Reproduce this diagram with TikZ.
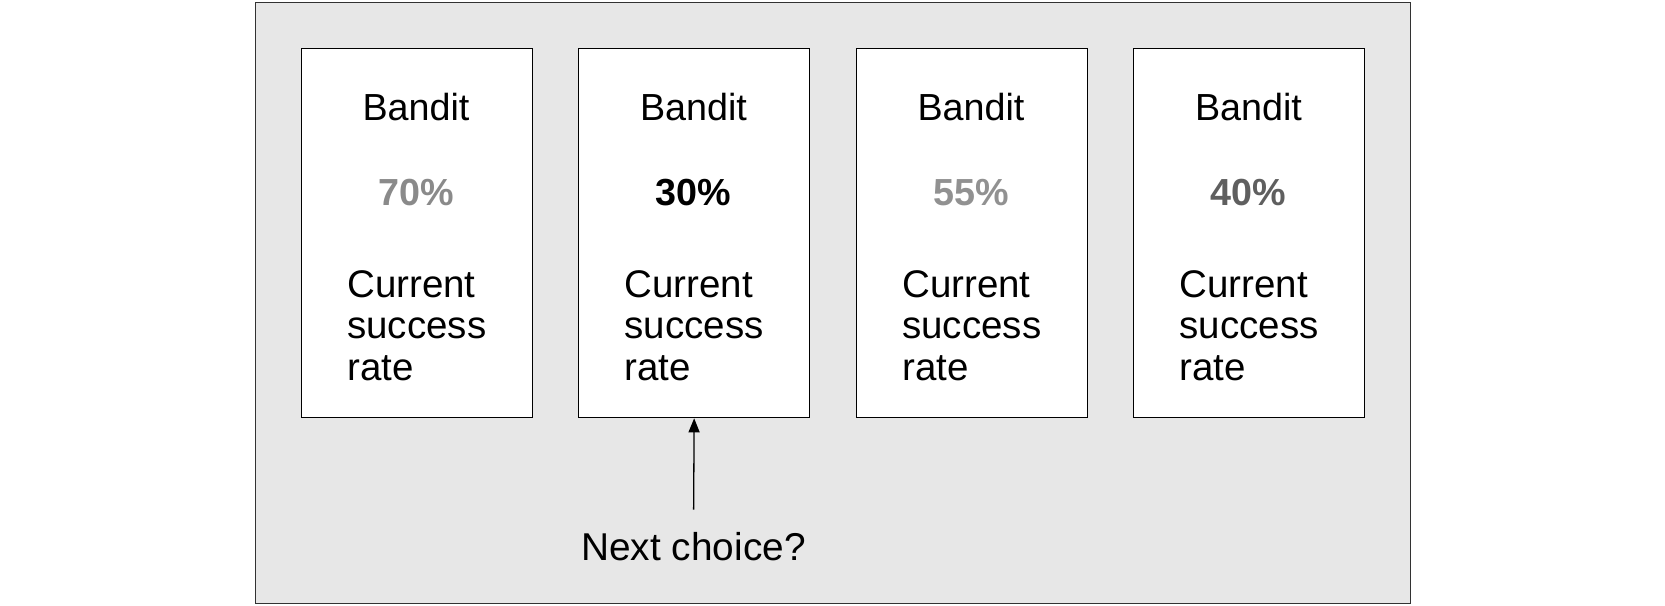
\documentclass[tikz,border=0pt]{standalone}
\usepackage{fontspec}
\setmainfont{Liberation Sans}
\usetikzlibrary{arrows.meta}
\definecolor{framefill}{RGB}{231,231,231}
\definecolor{framedraw}{RGB}{50,50,50}
\definecolor{pctA}{RGB}{138,138,138}
\definecolor{pctC}{RGB}{145,145,145}
\definecolor{pctD}{RGB}{95,95,95}
\begin{document}
\begin{tikzpicture}[x=1pt,y=-1pt,
  banditbox/.style={draw=black,line width=1.3pt,fill=white,minimum width=231pt,minimum height=369pt,inner sep=0pt,anchor=north west},
  txt/.style={font=\fontsize{37.7}{41.5}\selectfont,inner sep=0pt,anchor=base},
  linetxt/.style={inner sep=0pt,anchor=base west,font=\fontsize{38.5}{41.5}\selectfont},
  pct/.style={inner sep=0pt,anchor=base,font=\fontsize{37.7}{41.5}\selectfont\bfseries},
  arrowline/.style={line width=1.3pt,-{Triangle[length=14pt,width=11pt]}}]
\useasboundingbox (0,0) rectangle (1665,605);
\node[draw=framedraw,line width=1.3pt,fill=framefill,minimum width=1155pt,minimum height=601pt,anchor=north west,inner sep=0pt] (frame) at (255,2) {};
\node[banditbox] (b1) at (300.5,48) {};
\node[banditbox] (b2) at (578,48) {};
\node[banditbox] (b3) at (855.5,48) {};
\node[banditbox] (b4) at (1133,48) {};
% box 1
\node[txt] (t1) at (416,120) {Bandit};
\node[pct,text=pctA] (p1) at (416,205) {70\%};
\node[linetxt] (c1) at (347,297) {Current};
\node[linetxt] (s1) at (347,338.5) {success};
\node[linetxt] (r1) at (347,380) {rate};
% box 2
\node[txt] (t2) at (693.5,120) {Bandit};
\node[pct,text=black] (p2) at (693.5,205) {30\%};
\node[linetxt] (c2) at (624.5,297) {Current};
\node[linetxt] (s2) at (624.5,338.5) {success};
\node[linetxt] (r2) at (624.5,380) {rate};
% box 3
\node[txt] (t3) at (971,120) {Bandit};
\node[pct,text=pctC] (p3) at (971,205) {55\%};
\node[linetxt] (c3) at (902,297) {Current};
\node[linetxt] (s3) at (902,338.5) {success};
\node[linetxt] (r3) at (902,380) {rate};
% box 4
\node[txt] (t4) at (1248.5,120) {Bandit};
\node[pct,text=pctD] (p4) at (1248.5,205) {40\%};
\node[linetxt] (c4) at (1179.5,297) {Current};
\node[linetxt] (s4) at (1179.5,338.5) {success};
\node[linetxt] (r4) at (1179.5,380) {rate};
% next choice
\node[txt,font=\fontsize{38.8}{41.5}\selectfont] (next) at (693.5,560) {Next choice?};
\draw[arrowline,shorten <=22pt] (next.north) -- (b2.south);
\end{tikzpicture}
\end{document}
